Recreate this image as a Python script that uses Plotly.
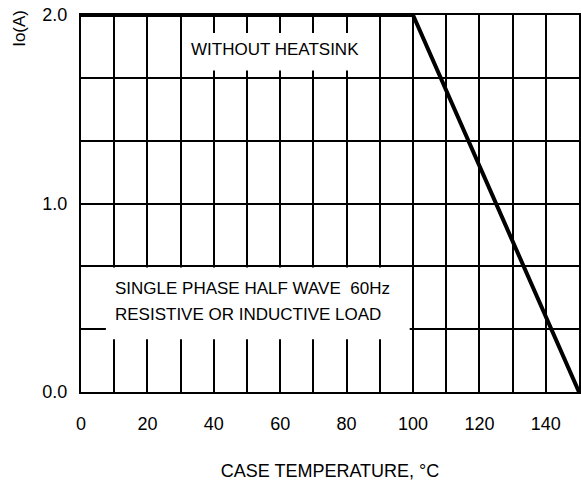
import plotly.graph_objects as go

# Data
temp_c = [0, 100, 150]
io_a = [2.0, 2.0, 0.0]

x_tick_vals = list(range(0, 151, 10))
x_tick_text = ["0", "", "20", "", "40", "", "60", "", "80", "", "100", "", "120", "", "140", ""]
y_tick_vals = [0, 1/3, 2/3, 1, 4/3, 5/3, 2]
y_tick_text = ["0.0", "", "", "1.0", "", "", "2.0"]

FONT = "Liberation Sans, Arial, sans-serif"

fig = go.Figure()
fig.add_trace(go.Scatter(x=temp_c, y=io_a, mode="lines",
                         line=dict(color="black", width=4), showlegend=False,
                         cliponaxis=False, hoverinfo="skip"))

# White label boxes that hide the grid
fig.add_shape(type="rect", x0=31, x1=89, y0=1.705, y1=1.905, xref="x", yref="y",
              fillcolor="white", line=dict(width=0), layer="above")
fig.add_shape(type="rect", x0=7.5, x1=99, y0=0.28, y1=0.66, xref="x", yref="y",
              fillcolor="white", line=dict(width=0), layer="above")

fig.add_annotation(x=58.5, y=1.815, xref="x", yref="y", text="WITHOUT HEATSINK",
                   showarrow=False, font=dict(size=17, color="black", family=FONT))
fig.add_annotation(x=9.5, y=0.55, xref="x", yref="y",
                   text="SINGLE PHASE HALF WAVE  60Hz",
                   showarrow=False, xanchor="left", align="left",
                   font=dict(size=17, color="black", family=FONT))
fig.add_annotation(x=9.5, y=0.413, xref="x", yref="y",
                   text="RESISTIVE OR INDUCTIVE LOAD",
                   showarrow=False, xanchor="left", align="left",
                   font=dict(size=17, color="black", family=FONT))
fig.add_annotation(x=-0.1225, y=0.966, xref="paper", yref="paper", text="Io(A)",
                   textangle=-90, showarrow=False, xanchor="center", yanchor="middle",
                   font=dict(size=17, color="black", family=FONT))

fig.update_xaxes(range=[0, 150], tickvals=x_tick_vals, ticktext=x_tick_text,
                 showgrid=True, gridcolor="black", gridwidth=2,
                 showline=True, linecolor="black", linewidth=2, mirror=True,
                 zeroline=False, ticks="", ticklabelstandoff=14,
                 ticklabeloverflow="allow", automargin=False,
                 tickfont=dict(size=18, color="black", family=FONT),
                 title=dict(text="CASE TEMPERATURE, °C", standoff=32,
                            font=dict(size=18, color="black", family=FONT)))
fig.update_yaxes(range=[0, 2], tickvals=y_tick_vals, ticktext=y_tick_text,
                 showgrid=True, gridcolor="black", gridwidth=2,
                 showline=True, linecolor="black", linewidth=2, mirror=True,
                 zeroline=False, ticks="", ticklabelstandoff=8,
                 ticklabeloverflow="allow", automargin=False,
                 tickfont=dict(size=18, color="black", family=FONT))

fig.update_layout(width=581, height=486, margin=dict(l=81, r=2, t=15, b=94),
                  plot_bgcolor="white", paper_bgcolor="white",
                  font=dict(family=FONT, color="black"))

fig.write_html("out.html", config={"displayModeBar": False},
               post_script="document.body.style.margin='0px';document.body.style.overflow='hidden';")
